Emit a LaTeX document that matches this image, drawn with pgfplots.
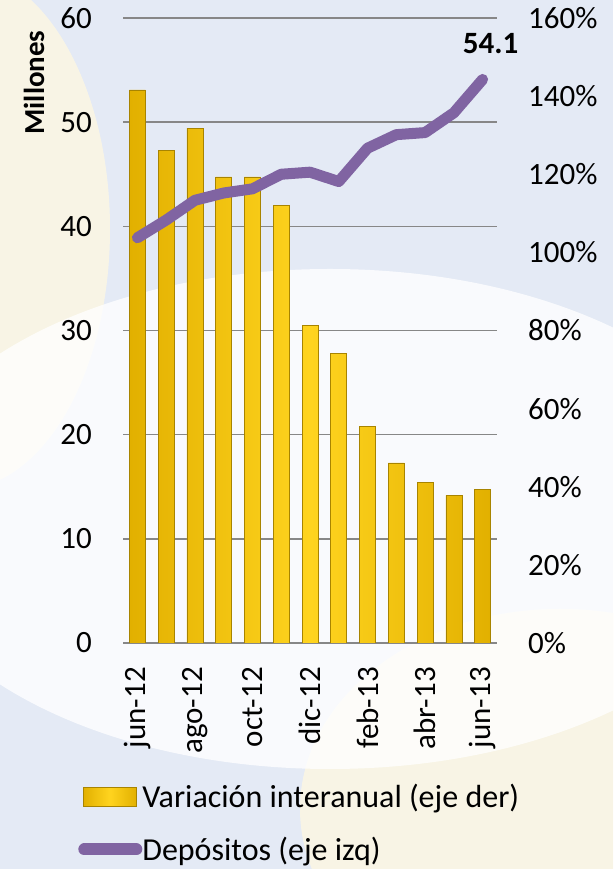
\documentclass[border=0pt]{standalone}
\usepackage{pgfplots}
\pgfplotsset{compat=1.18}
\usepackage{fontspec}
\setmainfont{Carlito}
\definecolor{bg}{HTML}{E4EAF5}
\definecolor{cream}{HTML}{FBF6E4}
\definecolor{gridc}{HTML}{878787}
\definecolor{goldA}{HTML}{FFD41F}
\definecolor{goldB}{HTML}{E2B000}
\definecolor{goldE}{HTML}{A88400}
\definecolor{lila}{HTML}{8064A2}
\newcommand{\bigf}{\fontsize{31}{36}\selectfont}
\begin{document}
\begin{tikzpicture}
\useasboundingbox (0pt,0pt) rectangle (613pt,869pt);
\fill[bg] (0pt,0pt) rectangle (613pt,869pt);
\begin{scope}
\clip (0pt,0pt) rectangle (613pt,869pt);
\fill[cream, opacity=0.9] (-40pt,640pt) ellipse [x radius=150pt, y radius=260pt];
\fill[cream, opacity=0.9] (560pt,60pt) ellipse [x radius=260pt, y radius=200pt];
\fill[white, opacity=0.8] (330pt,350pt) ellipse [x radius=440pt, y radius=250pt];
\end{scope}
% axis 1: left scale, grid, x labels
\begin{axis}[
  at={(123pt,226pt)}, anchor=south west, scale only axis,
  width=374pt, height=625pt,
  xmin=-0.5, xmax=12.5, ymin=0, ymax=60,
  ytick={0,10,...,60}, ymajorgrids, grid style={gridc, line width=1.6pt},
  xtick={0,2,...,12},
  xticklabels={jun-12,ago-12,oct-12,dic-12,feb-13,abr-13,jun-13},
  xticklabel style={rotate=90, anchor=east, font=\bigf},
  xticklabel shift=24pt,
  yticklabel style={font=\bigf, xshift=-31pt},
  /pgf/number format/assume math mode=true,
  major tick length=0pt,
  tick label style={inner sep=0pt},
  axis line style={draw=none},
]
\addplot[draw=none] coordinates {(0,0)};
\end{axis}
% axis 2: bars, right scale
\begin{axis}[
  at={(123pt,226pt)}, anchor=south west, scale only axis,
  width=374pt, height=625pt,
  xmin=-0.5, xmax=12.5, ymin=0, ymax=160,
  axis y line*=right, axis x line=none,
  axis line style={draw=none},
  ytick={0,20,...,160},
  yticklabel={\pgfmathprintnumber{\tick}\%},
  yticklabel style={font=\bigf, xshift=31pt, anchor=west, inner sep=0pt},
  /pgf/number format/assume math mode=true,
  major tick length=0pt,
]
\addplot[ybar, bar width=16pt, draw=goldE, line width=0.7pt,
  left color=goldB, right color=goldB, middle color=goldA]
  coordinates {(0,141.6) (1,126.2) (2,131.8) (3,119.3) (4,119.3) (5,112.1)
  (6,81.2) (7,74.1) (8,55.4) (9,46.1) (10,41.0) (11,37.8) (12,39.3)};
\end{axis}
% axis 3: line, left scale
\begin{axis}[
  at={(123pt,226pt)}, anchor=south west, scale only axis,
  width=374pt, height=625pt,
  xmin=-0.5, xmax=12.5, ymin=0, ymax=60,
  axis lines=none, clip=false,
  legend style={at={(axis description cs:-0.12,-0.2255)}, anchor=north west,
    draw=none, fill=none, font=\fontsize{32}{36}\selectfont,
    row sep=28pt, inner sep=0pt, column sep=0pt,
    nodes={inner sep=0pt}},
  legend cell align=left,
]
\addlegendimage{legend image code/.code={
  \draw[draw=goldE, line width=0.7pt, left color=goldB, right color=goldB, middle color=goldA] (5pt,-9.5pt) rectangle (58pt,9.5pt);}}
\addlegendentry{Variación interanual (eje der)}
\addplot[lila, line width=11pt, line cap=round, line join=round,
  legend image code/.code={\draw[lila, line width=12pt, line cap=round] (6pt,0pt) -- (58pt,0pt);}]
  coordinates {(0,38.9) (1,40.6) (2,42.5) (3,43.2) (4,43.6) (5,45.0) (6,45.2)
  (7,44.3) (8,47.5) (9,48.8) (10,49.0) (11,50.9) (12,54.1)};
\addlegendentry{Depósitos (eje izq)}
\node[font=\bfseries\bigf, xshift=8pt, yshift=36pt] at (axis cs:12,54.1) {54.1};
\end{axis}
\node[rotate=90, anchor=east, font=\bfseries\fontsize{29}{34}\selectfont] at (34pt,842pt) {Millones};
\end{tikzpicture}
\end{document}
